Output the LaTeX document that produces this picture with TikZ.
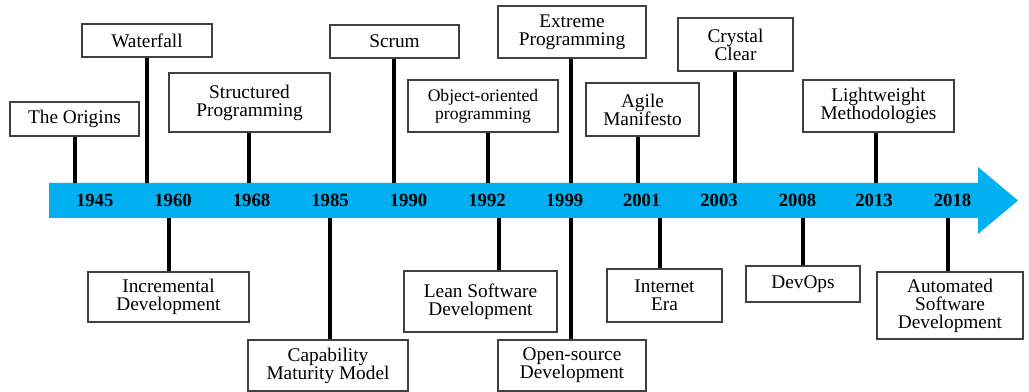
\documentclass[tikz,border=0pt]{standalone}
\usepackage{fontspec}
\setmainfont{Liberation Serif}
\definecolor{bandblue}{RGB}{0,176,240}
\tikzset{
  bx/.style 2 args={draw=black!75, line width=0.8pt, fill=white, align=center, inner sep=0pt,
    minimum width=#1*0.75pt, minimum height=#2*0.75pt,
    font=\fontsize{14.5}{13.4}\selectfont},
  stem/.style={line width=3pt, black},
  thinstem/.style={line width=2.5pt, black},
  yr/.style={font=\fontsize{14}{14}\bfseries, inner sep=0pt}
}
\begin{document}
\begin{tikzpicture}[x=0.75pt,y=-0.75pt]
\useasboundingbox (0,0) rectangle (1029,392);
% band arrow
\fill[bandblue] (49,183) -- (978,183) -- (978,167) -- (1018,200.5) -- (978,234) -- (978,218) -- (49,218) -- cycle;
% stem anchors on the band
\coordinate (t1) at (75,183);
\coordinate (t2) at (147,183);
\coordinate (t3) at (249,183);
\coordinate (t4) at (394,183);
\coordinate (t5) at (488,183);
\coordinate (t6) at (571,183);
\coordinate (t7) at (638,183);
\coordinate (t8) at (735,183);
\coordinate (t9) at (876,183);
\coordinate (b1) at (169,218);
\coordinate (b2) at (330,218);
\coordinate (b3) at (499,218);
\coordinate (b4) at (571,218);
\coordinate (b5) at (660,218);
\coordinate (b6) at (803,218);
\coordinate (b7) at (948,218);
% top boxes
\node[bx={129}{34}] (origins) at (74.5,119) {The Origins};
\node[bx={130}{33}] (waterfall) at (147,40.5) {Waterfall};
\node[bx={161}{59}] (structured) at (249.5,102.5) {Structured\\Programming};
\node[bx={129}{33}] (scrum) at (394.5,41.5) {Scrum};
\node[bx={150}{52},font=\fontsize{13.2}{13.4}\selectfont] (oop) at (483,106) {Object-oriented\\programming};
\node[bx={148}{52}] (extreme) at (572,32) {Extreme\\Programming};
\node[bx={113}{53}] (agile) at (642.5,109.5) {Agile\\Manifesto};
\node[bx={115}{53}] (crystal) at (735.5,44.5) {Crystal\\Clear};
\node[bx={151}{52}] (lightweight) at (878.5,106) {Lightweight\\Methodologies};
% bottom boxes
\node[bx={161}{50}] (incremental) at (168.5,297) {Incremental\\Development};
\node[bx={160}{51}] (cmm) at (328,365.5) {Capability\\Maturity Model};
\node[bx={153}{61}] (lean) at (480.5,301.5) {Lean Software\\Development};
\node[bx={148}{51}] (opensource) at (572,365.5) {Open-source\\Development};
\node[bx={115}{53}] (internet) at (664.5,295.5) {Internet\\Era};
\node[bx={114}{36}] (devops) at (803,284) {DevOps};
\node[bx={146}{67}] (automated) at (950,305.5) {Automated\\Software\\Development};
% stems
\draw[stem] (t1) -- (t1 |- origins.south);
\draw[stem] (t2) -- (t2 |- waterfall.south);
\draw[stem] (t3) -- (t3 |- structured.south);
\draw[stem] (t4) -- (t4 |- scrum.south);
\draw[stem] (t5) -- (t5 |- oop.south);
\draw[stem] (t6) -- (t6 |- extreme.south);
\draw[stem] (t7) -- (t7 |- agile.south);
\draw[thinstem] (t8) -- (t8 |- crystal.south);
\draw[stem] (t9) -- (t9 |- lightweight.south);
\draw[stem] (b1) -- (b1 |- incremental.north);
\draw[thinstem] (b2) -- (b2 |- cmm.north);
\draw[stem] (b3) -- (b3 |- lean.north);
\draw[stem] (b4) -- (b4 |- opensource.north);
\draw[stem] (b5) -- (b5 |- internet.north);
\draw[stem] (b6) -- (b6 |- devops.north);
\draw[stem] (b7) -- (b7 |- automated.north);
% years
\node[yr] (y1945) at (94.7,200.5) {1945};
\node[yr] (y1960) at (173,200.5) {1960};
\node[yr] (y1968) at (251.5,200.5) {1968};
\node[yr] (y1985) at (330,200.5) {1985};
\node[yr] (y1990) at (408.5,200.5) {1990};
\node[yr] (y1992) at (487,200.5) {1992};
\node[yr] (y1999) at (564.5,200.5) {1999};
\node[yr] (y2001) at (641.7,200.5) {2001};
\node[yr] (y2003) at (719,200.5) {2003};
\node[yr] (y2008) at (797.5,200.5) {2008};
\node[yr] (y2013) at (874,200.5) {2013};
\node[yr] (y2018) at (952.5,200.5) {2018};
\end{tikzpicture}
\end{document}
